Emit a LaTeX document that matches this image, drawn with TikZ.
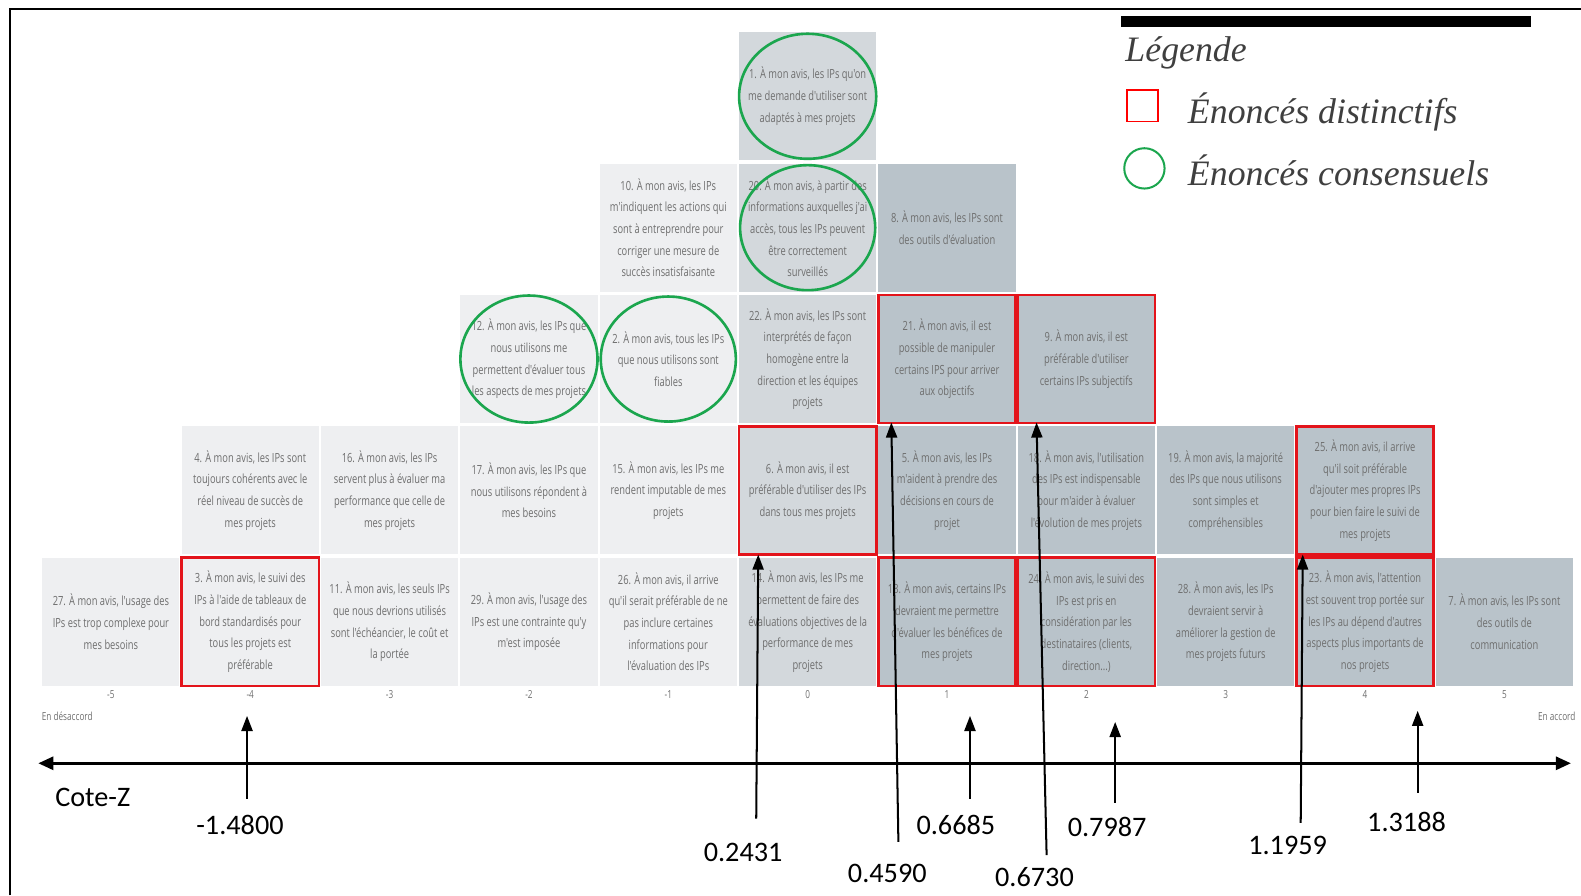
\documentclass[tikz,border=0pt]{standalone}
\usepackage{fontspec}
\setmainfont{Liberation Serif}
\newfontfamily\cellfont[FakeStretch=0.74]{Open Sans}
\newfontfamily\zfont{Carlito}
\usetikzlibrary{arrows.meta}

\definecolor{cellA}{HTML}{EEEFF1}
\definecolor{cellB}{HTML}{D3D8DC}
\definecolor{cellC}{HTML}{B9C3CA}
\definecolor{celltext}{HTML}{6E6E6E}
\definecolor{distinctred}{HTML}{E3141B}
\definecolor{consgreen}{HTML}{1BA64E}
\definecolor{legendtext}{HTML}{3F3F3F}

\tikzset{
  at cell/.style 2 args={at={({42+138.2*(#1+5)+68},{32+130.3*(#2)+63.5})}},
  statement/.style={minimum width=136pt, minimum height=127pt, inner sep=0pt,
    font=\cellfont\fontsize{12.5}{21.5}\selectfont, text=celltext, align=center},
  negcell/.style={statement, fill=cellA},
  midcell/.style={statement, fill=cellB},
  poscell/.style={statement, fill=cellC},
  distinct/.style={draw=distinctred, line width=2.6pt},
  consensus/.style={draw=consgreen, line width=2.6pt},
  scalelabel/.style={font=\cellfont\fontsize{11}{11}\selectfont, text=celltext},
  zlabel/.style={font=\zfont\fontsize{28}{28}\selectfont, inner sep=0pt},
  zarrow/.style={line width=2pt, -{Triangle[length=15pt,width=11pt]}},
  legendlabel/.style={font=\itshape\fontsize{35.5}{35.5}\selectfont, text=legendtext, anchor=base west, inner sep=0pt}
}

\begin{document}
\begin{tikzpicture}[x=1pt, y=-1pt]
\useasboundingbox (0,0) rectangle (1568,888);

% frame
\draw[line width=1.5pt] (10,888) -- (10,9) -- (1568,9);

% top row
\node[midcell, at cell={0}{0}] (c1) {1. À mon avis, les IPs qu'on\\me demande d'utiliser sont\\adaptés à mes projets};

% second row
\node[negcell, at cell={-1}{1}] (c10) {10. À mon avis, les IPs\\m'indiquent les actions qui\\sont à entreprendre pour\\corriger une mesure de\\succès insatisfaisante};
\node[midcell, at cell={0}{1}] (c20) {20. À mon avis, à partir des\\informations auxquelles j'ai\\accès, tous les IPs peuvent\\être correctement\\surveillés};
\node[poscell, at cell={1}{1}] (c8) {8. À mon avis, les IPs sont\\des outils d'évaluation};

% third row
\node[negcell, at cell={-2}{2}] (c12) {12. À mon avis, les IPs que\\nous utilisons me\\permettent d'évaluer tous\\les aspects de mes projets};
\node[negcell, at cell={-1}{2}] (c2) {2. À mon avis, tous les IPs\\que nous utilisons sont\\fiables};
\node[midcell, at cell={0}{2}] (c22) {22. À mon avis, les IPs sont\\interprétés de façon\\homogène entre la\\direction et les équipes\\projets};
\node[poscell, distinct, at cell={1}{2}] (c21) {21. À mon avis, il est\\possible de manipuler\\certains IPS pour arriver\\aux objectifs};
\node[poscell, distinct, at cell={2}{2}] (c9) {9. À mon avis, il est\\préférable d'utiliser\\certains IPs subjectifs};

% fourth row
\node[negcell, at cell={-4}{3}] (c4) {4. À mon avis, les IPs sont\\toujours cohérents avec le\\réel niveau de succès de\\mes projets};
\node[negcell, at cell={-3}{3}] (c16) {16. À mon avis, les IPs\\servent plus à évaluer ma\\performance que celle de\\mes projets};
\node[negcell, at cell={-2}{3}] (c17) {17. À mon avis, les IPs que\\nous utilisons répondent à\\mes besoins};
\node[negcell, at cell={-1}{3}] (c15) {15. À mon avis, les IPs me\\rendent imputable de mes\\projets};
\node[midcell, distinct, at cell={0}{3}] (c6) {6. À mon avis, il est\\préférable d'utiliser des IPs\\dans tous mes projets};
\node[poscell, at cell={1}{3}] (c5) {5. À mon avis, les IPs\\m'aident à prendre des\\décisions en cours de\\projet};
\node[poscell, at cell={2}{3}] (c18) {18. À mon avis, l'utilisation\\des IPs est indispensable\\pour m'aider à évaluer\\l'évolution de mes projets};
\node[poscell, at cell={3}{3}] (c19) {19. À mon avis, la majorité\\des IPs que nous utilisons\\sont simples et\\compréhensibles};
\node[poscell, distinct, at cell={4}{3}] (c25) {25. À mon avis, il arrive\\qu'il soit préférable\\d'ajouter mes propres IPs\\pour bien faire le suivi de\\mes projets};

% bottom row
\node[negcell, at cell={-5}{4}] (c27) {27. À mon avis, l'usage des\\IPs est trop complexe pour\\mes besoins};
\node[negcell, distinct, at cell={-4}{4}] (c3) {3. À mon avis, le suivi des\\IPs à l'aide de tableaux de\\bord standardisés pour\\tous les projets est\\préférable};
\node[negcell, at cell={-3}{4}] (c11) {11. À mon avis, les seuls IPs\\que nous devrions utilisés\\sont l'échéancier, le coût et\\la portée};
\node[negcell, at cell={-2}{4}] (c29) {29. À mon avis, l'usage des\\IPs est une contrainte qu'y\\m'est imposée};
\node[negcell, at cell={-1}{4}] (c26) {26. À mon avis, il arrive\\qu'il serait préférable de ne\\pas inclure certaines\\informations pour\\l'évaluation des IPs};
\node[midcell, at cell={0}{4}] (c14) {14. À mon avis, les IPs me\\permettent de faire des\\évaluations objectives de la\\performance de mes\\projets};
\node[poscell, distinct, at cell={1}{4}] (c13) {13. À mon avis, certains IPs\\devraient me permettre\\d'évaluer les bénéfices de\\mes projets};
\node[poscell, distinct, at cell={2}{4}] (c24) {24. À mon avis, le suivi des\\IPs est pris en\\considération par les\\destinataires (clients,\\direction...)};
\node[poscell, at cell={3}{4}] (c28) {28. À mon avis, les IPs\\devraient servir à\\améliorer la gestion de\\mes projets futurs};
\node[poscell, distinct, at cell={4}{4}] (c23) {23. À mon avis, l'attention\\est souvent trop portée sur\\les IPs au dépend d'autres\\aspects plus importants de\\nos projets};
\node[poscell, at cell={5}{4}] (c7) {7. À mon avis, les IPs sont\\des outils de\\communication};

% consensus statements
\draw[consensus] (c1.center) ellipse [x radius=68, y radius=62];
\draw[consensus] (c20.center) ellipse [x radius=67, y radius=62];
\draw[consensus] (c12.center) ellipse [x radius=68, y radius=63];
\draw[consensus] (c2.center) ellipse [x radius=67, y radius=62];

% agreement scale
\foreach \v [count=\k from 0] in {-5,-4,-3,-2,-1,0,1,2,3,4,5}
  \node[scalelabel] (s\k) at ({42+138.2*(\v+5)+68}, 689) {\v};
\node[scalelabel, anchor=west] (disagree) at (38, 710) {En désaccord};
\node[scalelabel, anchor=east] (agree) at (1566, 710) {En accord};

% legend
\fill (1112,16) rectangle (1518,27);
\node[legendlabel] (legtitle) at (1116,61) {Légende};
\node[draw=red, line width=1.6pt, minimum size=31pt, inner sep=0pt] (legsq) at (1133,105) {};
\node[legendlabel] (legdist) at (1178,122) {Énoncés distinctifs};
\node[circle, draw=consgreen, line width=2pt, minimum size=40pt, inner sep=0pt] (legcirc) at (1135,167) {};
\node[legendlabel] (legcons) at (1178,184) {Énoncés consensuels};

% Z-score axis
\coordinate (axL) at (38,757);
\coordinate (axR) at (1558,757);
\draw[line width=2.8pt, {Triangle[length=15pt,width=13pt]}-{Triangle[length=15pt,width=13pt]}] (axL) -- (axR);
\node[zlabel] (cotez) at (92,791) {Cote-Z};

% Z-scores of the distinctive statements
\node[zlabel] (z1) at (238,818) {-1.4800};
\node[zlabel] (z2) at (737,845) {0.2431};
\node[zlabel] (z3) at (880,866) {0.4590};
\node[zlabel] (z4) at (948,818) {0.6685};
\node[zlabel] (z5) at (1026,870) {0.6730};
\node[zlabel] (z6) at (1098,820) {0.7987};
\node[zlabel] (z7) at (1277,838) {1.1959};
\node[zlabel] (z8) at (1395,815) {1.3188};

\coordinate (b1) at (245,792);  \coordinate (t1) at (245,710);
\coordinate (b2) at (750,812);  \coordinate (t2) at (752,550);
\coordinate (b3) at (891,835);  \coordinate (t3) at (884,419);
\coordinate (b4) at (962,792);  \coordinate (t4) at (962,710);
\coordinate (b5) at (1038,848); \coordinate (t5) at (1028,419);
\coordinate (b6) at (1106,796); \coordinate (t6) at (1106,716);
\coordinate (b7) at (1290,816); \coordinate (t7) at (1292,550);
\coordinate (b8) at (1406,786); \coordinate (t8) at (1406,705);
\foreach \i in {1,...,8} \draw[zarrow] (b\i) -- (t\i);
\end{tikzpicture}
\end{document}
